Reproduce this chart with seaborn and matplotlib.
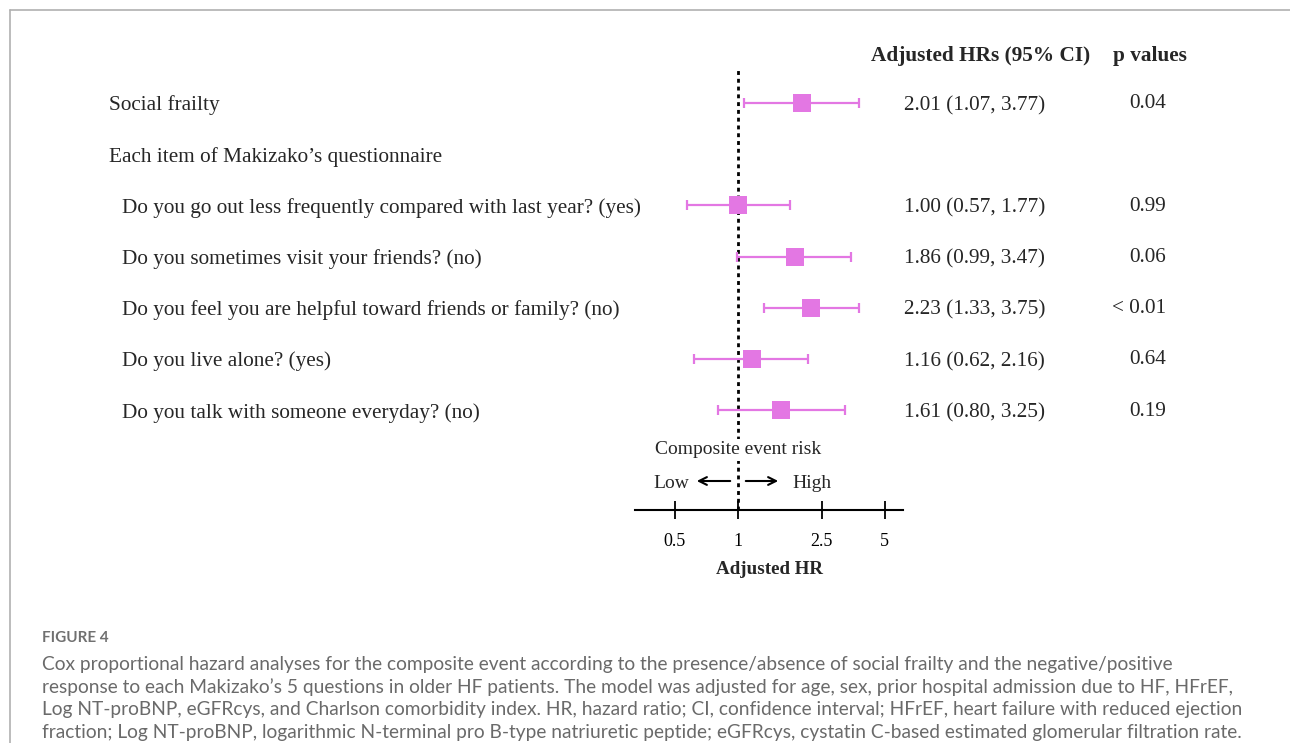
import numpy as np
import pandas as pd
import matplotlib
matplotlib.use("Agg")
import matplotlib.pyplot as plt
import matplotlib.transforms as mtransforms
from matplotlib.lines import Line2D
import seaborn as sns

# data
row_labels = ["Social frailty",
              "Each item of Makizako\u2019s questionnaire",
              "Do you go out less frequently compared with last year? (yes)",
              "Do you sometimes visit your friends? (no)",
              "Do you feel you are helpful toward friends or family? (no)",
              "Do you live alone? (yes)",
              "Do you talk with someone everyday? (no)"]
indent = [0, 0, 1, 1, 1, 1, 1]
hr = [2.01, np.nan, 1.00, 1.86, 2.23, 1.16, 1.61]
ci_lo = [1.07, np.nan, 0.57, 0.99, 1.33, 0.62, 0.80]
ci_hi = [3.77, np.nan, 1.77, 3.47, 3.75, 2.16, 3.25]
p_values = ["0.04", "", "0.99", "0.06", "< 0.01", "0.64", "0.19"]
x_ticks = [0.5, 1, 2.5, 5]
x_ticklabels = ["0.5", "1", "2.5", "5"]

caption_lines = [
    "Cox proportional hazard analyses for the composite event according to the presence/absence of social frailty and the negative/positive",
    "response to each Makizako\u2019s 5 questions in older HF patients. The model was adjusted for age, sex, prior hospital admission due to HF, HFrEF,",
    "Log NT-proBNP, eGFRcys, and Charlson comorbidity index. HR, hazard ratio; CI, confidence interval; HFrEF, heart failure with reduced ejection",
    "fraction; Log NT-proBNP, logarithmic N-terminal pro B-type natriuretic peptide; eGFRcys, cystatin C-based estimated glomerular filtration rate.",
]

df = pd.DataFrame({"row": np.arange(len(row_labels)), "label": row_labels,
                   "hr": hr, "lo": ci_lo, "hi": ci_hi, "p": p_values})
est = df.dropna(subset=["hr"])

sns.set_theme(style="white")
plt.rcParams["font.family"] = ["Liberation Serif", "DejaVu Serif"]

W, H = 1290, 743
fig = plt.figure(figsize=(W / 100, H / 100), dpi=100)

def fx(px):
    return px / W

def fy(py):
    return 1 - py / H

# axes placed so the bottom spine is the HR axis
ax = fig.add_axes([fx(635), fy(510), fx(903) - fx(635), (510 - 40) / H])
ax.set_xscale("log")
ax.set_xlim(10 ** ((635 - 738) / 210), 10 ** ((903 - 738) / 210))
ax.set_ylim((510 - 103) / 51.2, (40 - 103) / 51.2)

pink = "#E377E3"
ax.errorbar(est["hr"], est["row"],
            xerr=[est["hr"] - est["lo"], est["hi"] - est["hr"]],
            fmt="none", ecolor=pink, elinewidth=1.6, capsize=3.6,
            capthick=1.6, zorder=2)
sns.scatterplot(data=est, x="hr", y="row", marker="s", s=165,
                color=pink, linewidth=0, ax=ax, zorder=3)

ax.axvline(1, ymin=0, ymax=(510 - 67) / 470, color="black", lw=2,
           linestyle=(0, (1.4, 1.4)), zorder=1)

for s in ["top", "left", "right"]:
    ax.spines[s].set_visible(False)
ax.spines["bottom"].set_linewidth(1.5)
ax.spines["bottom"].set_color("black")
ax.set_xticks(x_ticks)
ax.set_xticklabels(x_ticklabels)
ax.xaxis.set_minor_locator(matplotlib.ticker.NullLocator())
ax.tick_params(axis="x", direction="inout", length=13, width=1.3,
               colors="black", labelsize=13, pad=10, bottom=True)
ax.set_yticks([])
ax.set_xlabel("Adjusted HR", fontsize=13.7, fontweight="bold", labelpad=8)
ax.set_ylabel("")

# text columns: x in figure, y in data rows
tr = mtransforms.blended_transform_factory(fig.transFigure, ax.transData)
for _, r in df.iterrows():
    x0 = fx(109) if indent[int(r["row"])] == 0 else fx(122)
    ax.text(x0, r["row"], r["label"], transform=tr, fontsize=15.3,
            va="center_baseline", ha="left", clip_on=False)
    if not np.isnan(r["hr"]):
        ax.text(fx(904), r["row"],
                f"{r['hr']:.2f} ({r['lo']:.2f}, {r['hi']:.2f})",
                transform=tr, fontsize=15.3, va="center_baseline",
                ha="left", clip_on=False)
    if r["p"]:
        ax.text(fx(1166), r["row"] - 0.03, r["p"], transform=tr,
                fontsize=15.3, va="center_baseline", ha="right",
                clip_on=False)

fig.text(fx(871), fy(54), "Adjusted HRs (95% CI)", fontsize=15.3,
         fontweight="bold", va="center_baseline", ha="left")
fig.text(fx(1113), fy(54), "p values", fontsize=15.3, fontweight="bold",
         va="center_baseline", ha="left")

# risk direction annotation
fig.text(fx(738), fy(448), "Composite event risk", fontsize=14,
         ha="center", va="center_baseline",
         bbox=dict(facecolor="white", edgecolor="none", pad=2))
fig.text(fx(653), fy(481), "Low", fontsize=14, ha="left",
         va="center_baseline")
fig.text(fx(792), fy(481), "High", fontsize=14, ha="left",
         va="center_baseline")
arrow = dict(arrowstyle="->", lw=1.5, color="black", mutation_scale=14)
ax.annotate("", xy=(fx(694), fy(481)), xytext=(fx(733), fy(481)),
            xycoords="figure fraction", textcoords="figure fraction",
            arrowprops=arrow)
ax.annotate("", xy=(fx(781), fy(481)), xytext=(fx(743), fy(481)),
            xycoords="figure fraction", textcoords="figure fraction",
            arrowprops=arrow)

# frame lines of the page
fig.add_artist(Line2D([fx(10), 1], [fy(10), fy(10)], color="#b0b0b0",
                      lw=1.2, transform=fig.transFigure))
fig.add_artist(Line2D([fx(10), fx(10)], [fy(10), 0], color="#b0b0b0",
                      lw=1.2, transform=fig.transFigure))

# caption
cap_font = ["Lato", "DejaVu Sans"]
fig.text(fx(42), fy(637), "FIGURE 4", fontsize=11, color="#707070",
         family=cap_font, fontweight="bold", va="center_baseline")
for i, line in enumerate(caption_lines):
    fig.text(fx(42), fy(663 + 22.7 * i), line, fontsize=13.8, color="#6a6a6a",
             family=cap_font, va="center_baseline")

fig.savefig("out.png", dpi=100)
